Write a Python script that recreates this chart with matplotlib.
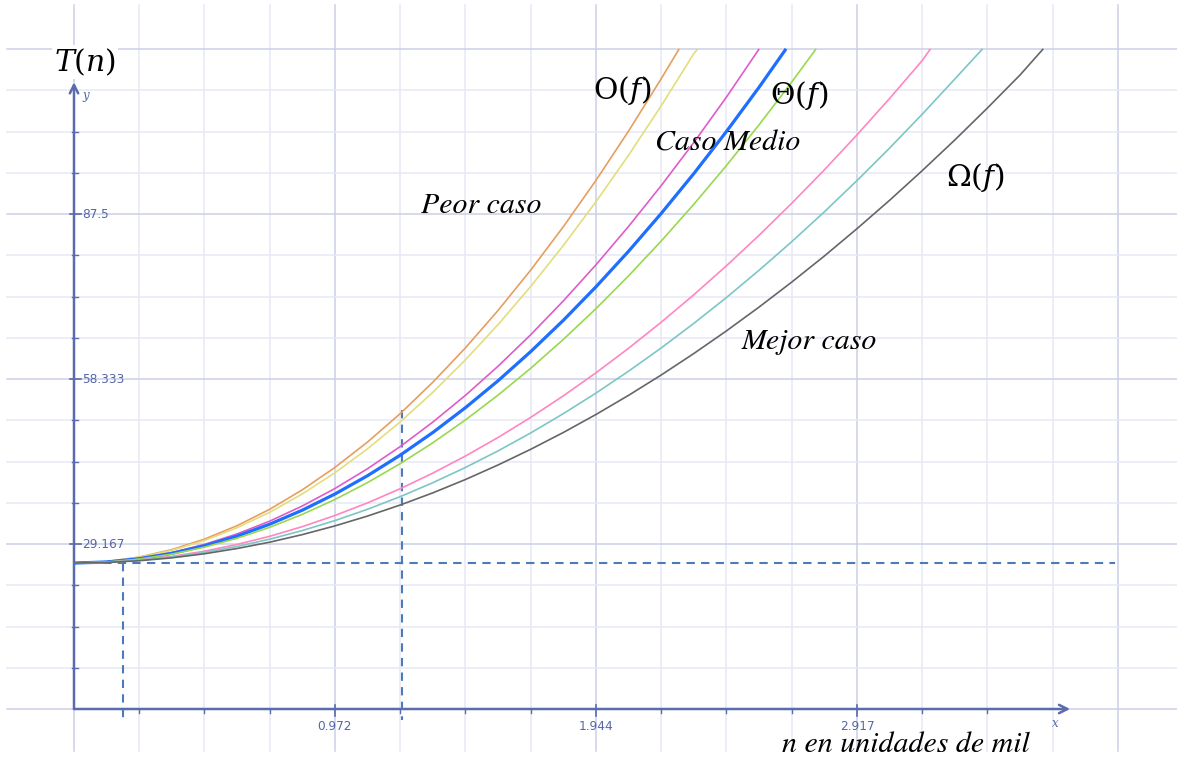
import matplotlib
matplotlib.use("Agg")
import matplotlib.pyplot as plt

plt.rcParams["mathtext.fontset"] = "stix"

# valores (x en unidades de mil, y = T(n))
x_vals = [0, 0.1215, 0.243, 0.3645, 0.486, 0.6075, 0.729, 0.8505, 0.972,
          1.0935, 1.215, 1.3365, 1.458, 1.5795, 1.701, 1.8225, 1.944,
          2.0655, 2.187, 2.3085, 2.430, 2.5515, 2.673, 2.7945, 2.916,
          3.0375, 3.159, 3.2805, 3.402, 3.5235]

peor = [25.8, 26.06, 26.86, 28.18, 30.03, 32.41, 35.31, 38.75, 42.71, 47.20,
        52.22, 57.77, 63.85, 70.46, 77.59, 85.26, 93.45, 102.17, 111.42]
peor_fin = (2.254, 116.7)
o_cota = [25.8, 26.05, 26.80, 28.05, 29.79, 32.04, 34.78, 38.02, 41.77, 46.01,
          50.75, 55.99, 61.73, 67.96, 74.70, 81.93, 89.67, 97.90, 106.63,
          115.86]
o_fin = (2.323, 116.7)
magenta = [25.8, 26.01, 26.62, 27.65, 29.10, 30.95, 33.21, 35.89, 38.98, 42.48,
           46.39, 50.72, 55.45, 60.60, 66.16, 72.14, 78.52, 85.31, 92.52,
           100.14, 108.17]
magenta_fin = (2.552, 116.7)
medio = [25.8, 25.99, 26.56, 27.52, 28.85, 30.57, 32.67, 35.15, 38.01, 41.25,
         44.87, 48.88, 53.27, 58.03, 63.18, 68.71, 74.63, 80.92, 87.60, 94.65,
         102.09, 109.91]
medio_fin = (2.652, 116.7)
theta = [25.8, 25.98, 26.50, 27.38, 28.61, 30.19, 32.12, 34.41, 37.04, 40.03,
         43.37, 47.06, 51.10, 55.49, 60.23, 65.33, 70.77, 76.57, 82.72, 89.22,
         96.07, 103.27, 110.82]
theta_fin = (2.764, 116.7)
rosa = [25.8, 25.93, 26.33, 26.98, 27.90, 29.09, 30.53, 32.24, 34.21, 36.44,
        38.94, 41.70, 44.72, 48.00, 51.55, 55.36, 59.43, 63.77, 68.37, 73.23,
        78.35, 83.74, 89.39, 95.30, 101.48, 107.92, 114.62]
rosa_fin = (3.19, 116.7)
omega = [25.8, 25.92, 26.27, 26.86, 27.68, 28.73, 30.02, 31.55, 33.31, 35.31,
         37.54, 40.00, 42.70, 45.63, 48.80, 52.21, 55.84, 59.72, 63.82, 68.17,
         72.74, 77.56, 82.60, 87.88, 93.40, 99.15, 105.14, 111.36]
omega_fin = (3.384, 116.7)
mejor = [25.8, 25.90, 26.21, 26.72, 27.44, 28.37, 29.49, 30.83, 32.37, 34.11,
         36.06, 38.21, 40.57, 43.14, 45.91, 48.88, 52.06, 55.45, 59.04, 62.84,
         66.84, 71.05, 75.46, 80.07, 84.90, 89.92, 95.16, 100.59, 106.24,
         112.08]
mejor_fin = (3.610, 116.7)

curvas = [
    (peor, peor_fin, "#E79E5E", 1.2),
    (o_cota, o_fin, "#E2DE7C", 1.2),
    (magenta, magenta_fin, "#DE5CC9", 1.2),
    (medio, medio_fin, "#1E6EFF", 2.3),
    (theta, theta_fin, "#98D84E", 1.2),
    (rosa, rosa_fin, "#FF86C2", 1.2),
    (omega, omega_fin, "#7CC6C6", 1.2),
    (mejor, mejor_fin, "#666666", 1.2),
]

x_ticks = [0.972, 1.944, 2.917]
x_tick_labels = ["0.972", "1.944", "2.917"]
y_ticks = [29.167, 58.333, 87.5]
y_tick_labels = ["29.167", "58.333", "87.5"]

paso_x = 0.972 / 4
paso_y = 29.1667 / 4

# lineas punteadas
base_y = 25.8
n0 = 0.1825
n1 = 1.2216
t_n1 = 52.85

# escala: px por unidad
px_x = 268.5
px_y = 5.657

fig = plt.figure(figsize=(11.77, 7.59), dpi=100)
ax = fig.add_axes([0, 0, 1, 1])
ax.set_xlim(-74 / px_x, (1177 - 74) / px_x)
ax.set_ylim((709 - 759) / px_y, 709 / px_y)
ax.axis("off")

# cuadricula
for k in range(0, 17):
    gx = k * paso_x
    c = "#CBCFE4" if k % 4 == 0 else "#E7E8F4"
    ax.plot([gx, gx], [-7.4, 124.4], color=c, lw=1.1, zorder=1)
for k in range(0, 17):
    gy = k * paso_y
    c = "#CBCFE4" if k % 4 == 0 else "#E7E8F4"
    ax.plot([-0.25, 4.2], [gy, gy], color=c, lw=1.1, zorder=1)

# ejes
eje = "#5A6BAE"
ax.annotate("", xy=(3.71, 0), xytext=(0, 0),
            arrowprops=dict(arrowstyle="->,head_length=0.6,head_width=0.3",
                            color=eje, lw=1.8, shrinkA=0, shrinkB=0), zorder=3)
ax.annotate("", xy=(0, 110.8), xytext=(0, 0),
            arrowprops=dict(arrowstyle="->,head_length=0.6,head_width=0.3",
                            color=eje, lw=1.8, shrinkA=0, shrinkB=0), zorder=3)

dx = 1 / px_x
dy = 1 / px_y
for k in range(1, 15):
    gx = k * paso_x
    if k % 4 == 0:
        ax.plot([gx, gx], [4 * dy, -7 * dy], color=eje, lw=1.2, zorder=3)
    else:
        ax.plot([gx, gx], [0, -4 * dy], color=eje, lw=1.0, zorder=3)
for k in range(1, 15):
    gy = k * paso_y
    if k % 4 == 0:
        ax.plot([-4 * dx, 7 * dx], [gy, gy], color=eje, lw=1.2, zorder=3)
    else:
        ax.plot([-2 * dx, 4 * dx], [gy, gy], color=eje, lw=1.0, zorder=3)

for v, t in zip(x_ticks, x_tick_labels):
    ax.text(v, -17 * dy, t, ha="center", va="center", fontsize=8.7,
            color="#5566A8", zorder=4)
for v, t in zip(y_ticks, y_tick_labels):
    ax.text(8 * dx, v, t, ha="left", va="center", fontsize=8.7,
            color="#5566A8", zorder=4)
ax.text(0.045, 108.5, "y", style="italic", fontsize=8.5, color="#5566A8",
        family="DejaVu Serif", ha="center", va="center")
ax.text(3.654, -2.5, "x", style="italic", fontsize=8.5, color="#5566A8",
        family="DejaVu Serif", ha="center", va="center")

# lineas punteadas de referencia
punteada = dict(color="#4A7BBA", lw=1.5, ls=(0, (4, 3)), zorder=5)
ax.plot([0, 3.877], [base_y, base_y], **punteada)
ax.plot([n0, n0], [base_y, -1.94], **punteada)
ax.plot([n1, n1], [t_n1, -1.94], **punteada)

# curvas
for ys, fin, color, lw in curvas:
    xs = x_vals[:len(ys)] + [fin[0]]
    yy = ys + [fin[1]]
    ax.plot(xs, yy, color=color, lw=lw, zorder=6, solid_capstyle="butt")

# textos
caja = dict(facecolor="white", edgecolor="none", pad=1)
mat = dict(fontsize=21.5, ha="center", va="center", zorder=7,
           math_fontfamily="dejavuserif")
ax.text(0.041, 114.4, r"$T(n)$", bbox=caja, **mat)
ax.text(2.041, 109.4, r"$\mathrm{O}(f)$", **mat)
ax.text(2.700, 108.5, r"$\Theta(f)$", **mat)
ax.text(3.356, 93.9, r"$\Omega(f)$", **mat)

serif_it = dict(family="STIXGeneral", style="italic", fontsize=21.5,
                ha="center", va="center", zorder=7)
ax.text(2.436, 99.9, "Caso Medio", **serif_it)
ax.text(1.516, 88.9, "Peor caso", **serif_it)
ax.text(2.737, 64.9, "Mejor caso", **serif_it)
ax.text(3.100, -7.6, "n en unidades de mil", family="STIXGeneral",
        style="italic", fontsize=21.5, ha="center", va="baseline", zorder=7)

fig.savefig("out.png", dpi=100, facecolor="white")
